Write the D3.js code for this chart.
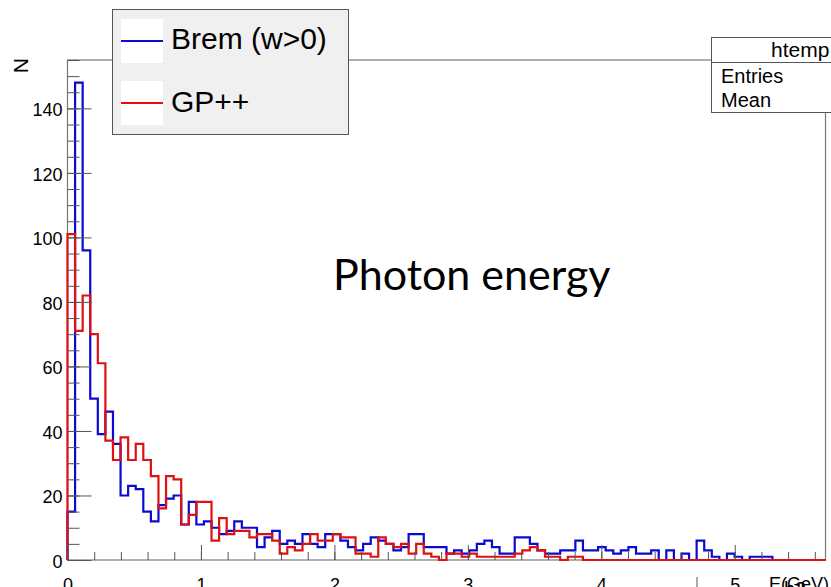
<!DOCTYPE html>
<html>
<head>
<meta charset="utf-8">
<script src="https://cdn.jsdelivr.net/npm/d3@7"></script>
<style>
  html, body { margin: 0; padding: 0; background: #fff; }
  svg { display: block; font-family: "Liberation Sans", Arial, sans-serif; }
</style>
</head>
<body>
<svg id="chart" width="831" height="587"></svg>
<script>
// Photon energy spectrum, ROOT-style histogram outline (100 bins)
const xMax = 5.68;
const binCount = 100;

// Brem (w>0) counts per bin
const brem = [
  15, 148, 96, 50, 39, 46, 36, 20, 23, 22,
  15, 12, 17, 19, 20, 11, 18, 11, 12, 10,
  8, 9, 12, 10, 10, 4, 7, 9, 5, 6,
  5, 8, 5, 4, 8, 8, 6, 4, 3, 5,
  7, 6, 5, 3, 4, 8, 8, 4, 4, 4,
  2, 3, 2, 3, 5, 6, 4, 2, 2, 7,
  7, 5, 3, 2, 2, 3, 3, 6, 3, 3,
  4, 3, 2, 3, 4, 2, 2, 3, 0, 3,
  0, 2, 0, 6, 3, 1, 0, 2, 1, 0,
  1, 1, 1, 0, 0, 0, 0, 0, 0, 0
];

// GP++ counts per bin
const gpp = [
  101, 71, 82, 70, 61, 37, 31, 38, 31, 36,
  31, 26, 16, 26, 25, 11, 14, 18, 18, 6,
  13, 8, 9, 9, 7, 8, 8, 6, 2, 4,
  3, 5, 8, 6, 6, 8, 7, 7, 2, 2,
  1, 7, 5, 4, 5, 2, 5, 2, 1, 0,
  2, 2, 1, 2, 1, 1, 1, 1, 1, 2,
  3, 4, 3, 1, 1, 0, 1, 1, 0, 0,
  0, 0, 0, 0, 0, 0, 0, 0, 0, 0,
  0, 0, 0, 0, 0, 0, 0, 0, 0, 0,
  0, 0, 0, 0, 0, 0, 0, 0, 0, 0
];

const xMajorTicks = [0, 1, 2, 3, 4, 5];
const xMinorTicks = d3.range(0, 5.61, 0.2);
const yMajorTicks = [0, 20, 40, 60, 80, 100, 120, 140];
const yMinorTicks = d3.range(0, 156, 5);

const legendItems = [
  { label: "Brem (w>0)", color: "#0a0ad0" },
  { label: "GP++", color: "#e01010" }
];

const frame = { left: 67.5, right: 825.5, top: 60, bottom: 560 };

const svg = d3.select("#chart");

const x = d3.scaleLinear().domain([0, xMax]).range([frame.left, frame.right]);
const y = d3.scaleLinear().domain([0, 155]).range([frame.bottom, frame.top]);

// frame
svg.append("rect")
  .attr("x", frame.left).attr("y", frame.top)
  .attr("width", frame.right - frame.left)
  .attr("height", frame.bottom - frame.top)
  .attr("fill", "none").attr("stroke", "#777").attr("stroke-width", 1.2);

// histogram outlines
const binW = xMax / binCount;
function stepPoints(vals) {
  const pts = [[0, 0]];
  vals.forEach((v, i) => {
    pts.push([i * binW, v]);
    pts.push([(i + 1) * binW, v]);
  });
  pts.push([xMax, 0]);
  return pts;
}
const line = d3.line().x(d => x(d[0])).y(d => y(d[1]));

[[brem, legendItems[0].color], [gpp, legendItems[1].color]].forEach(([vals, col]) => {
  svg.append("path")
    .attr("d", line(stepPoints(vals)))
    .attr("fill", "none")
    .attr("stroke", col)
    .attr("stroke-width", 2.2)
    .attr("stroke-linejoin", "miter");
});

// axes (ticks point inward, ROOT style)
function styleAxis(g) {
  g.select(".domain").remove();
  g.selectAll(".tick line").attr("stroke", "#555");
  g.selectAll(".tick text")
    .attr("fill", "#000")
    .style("font-size", "18px")
    .style("font-family", '"Liberation Sans", Arial, sans-serif');
}

svg.append("g")
  .attr("transform", `translate(${frame.left},0)`)
  .call(d3.axisLeft(y).tickValues(yMinorTicks).tickSize(-12).tickFormat(""))
  .call(styleAxis);
svg.append("g")
  .attr("transform", `translate(${frame.left},0)`)
  .call(d3.axisLeft(y).tickValues(yMajorTicks).tickSize(-24).tickPadding(5).tickFormat(d3.format("d")))
  .call(styleAxis)
  .selectAll(".tick text").attr("dy", "0.4em");

svg.append("g")
  .attr("transform", `translate(0,${frame.bottom})`)
  .call(d3.axisBottom(x).tickValues(xMinorTicks).tickSize(-8).tickFormat(""))
  .call(styleAxis);
svg.append("g")
  .attr("transform", `translate(0,${frame.bottom})`)
  .call(d3.axisBottom(x).tickValues(xMajorTicks).tickSize(-15).tickPadding(18).tickFormat(d3.format("d")))
  .call(styleAxis);

// axis titles
svg.append("text")
  .attr("transform", "translate(28,58) rotate(-90)")
  .attr("text-anchor", "end")
  .style("font-size", "21px")
  .text("N");
svg.append("text")
  .attr("x", 829).attr("y", 590)
  .attr("text-anchor", "end")
  .style("font-size", "18px")
  .text("E(GeV)");
svg.append("text")
  .attr("x", 784).attr("y", 596)
  .style("font-size", "20px")
  .text("h3");
svg.append("line")
  .attr("x1", 697).attr("x2", 697).attr("y1", 577).attr("y2", 587)
  .attr("stroke", "#555");

// annotation
svg.append("text")
  .attr("x", 333).attr("y", 290)
  .style("font-family", "Lato, 'Open Sans', sans-serif")
  .style("font-size", "43px")
  .text("Photon energy");

// stats box (cut off at right edge)
const stats = svg.append("g");
stats.append("rect")
  .attr("x", 711.5).attr("y", 37.5).attr("width", 140).attr("height", 75)
  .attr("fill", "#fff").attr("stroke", "#555");
stats.append("line")
  .attr("x1", 711.5).attr("x2", 851).attr("y1", 62.5).attr("y2", 62.5)
  .attr("stroke", "#555");
stats.append("text").attr("x", 771).attr("y", 57).style("font-size", "21px").text("htemp");
stats.append("text").attr("x", 721).attr("y", 83).style("font-size", "20px").text("Entries");
stats.append("text").attr("x", 721).attr("y", 107).style("font-size", "20px").text("Mean");

// legend
const legend = svg.append("g");
legend.append("rect")
  .attr("x", 112.5).attr("y", 9.5).attr("width", 236).attr("height", 125)
  .attr("fill", "#f0f0f0").attr("stroke", "#555");
legendItems.forEach((d, i) => {
  const cy = 41 + i * 62;
  legend.append("rect")
    .attr("x", 121).attr("y", cy - 22).attr("width", 42).attr("height", 44)
    .attr("fill", "#fff");
  legend.append("line")
    .attr("x1", 121).attr("x2", 163).attr("y1", cy).attr("y2", cy)
    .attr("stroke", d.color).attr("stroke-width", 2);
  legend.append("text")
    .attr("x", 171).attr("y", cy + 8 + i * 1)
    .style("font-size", "30px")
    .text(d.label);
});
</script>
</body>
</html>
